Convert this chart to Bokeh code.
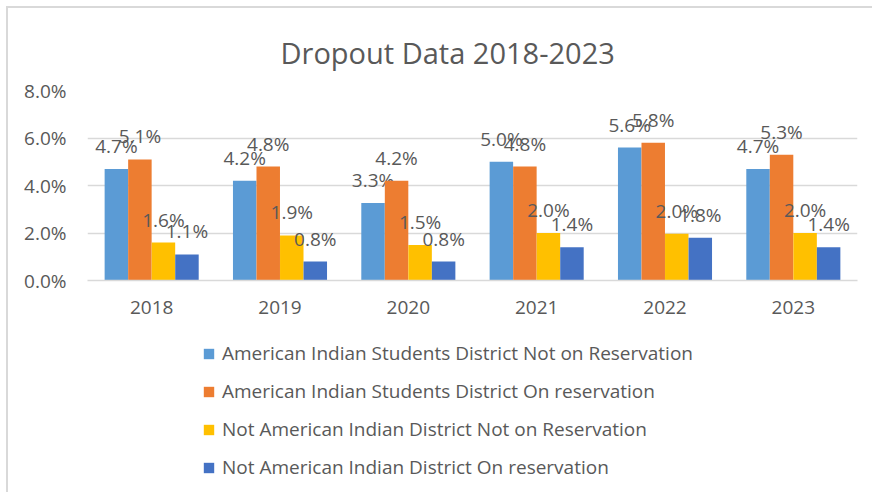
from bokeh.plotting import figure
from bokeh.layouts import column
from bokeh.models import (FactorRange, FixedTicker, PrintfTickFormatter, Legend, LegendItem)
from bokeh.transform import dodge
from bokeh.core.properties import value
from bokeh.embed import file_html
from bokeh.resources import INLINE

years = ["2018", "2019", "2020", "2021", "2022", "2023"]
series_names = [
    "American Indian Students District Not on Reservation",
    "American Indian Students District On reservation",
    "Not American Indian District Not on Reservation",
    "Not American Indian District On reservation",
]
ai_not_res = [4.7, 4.2, 3.26, 5.0, 5.6, 4.7]
ai_on_res = [5.1, 4.8, 4.2, 4.8, 5.8, 5.3]
nonai_not_res = [1.6, 1.9, 1.5, 2.0, 1.97, 2.0]
nonai_on_res = [1.1, 0.8, 0.8, 1.4, 1.8, 1.4]
y_ticks = [0, 2, 4, 6, 8]

colors = ["#5B9BD5", "#ED7D31", "#FFC000", "#4472C4"]
offsets = [-0.275, -0.0917, 0.0917, 0.275]
bar_w = 0.183
FONT = "Open Sans"
GRAY = "#595959"
all_vals = [ai_not_res, ai_on_res, nonai_not_res, nonai_on_res]

# main chart
p = figure(x_range=FactorRange(factors=years), y_range=(0, 8),
           width=864, height=320, output_backend="svg", toolbar_location=None,
           min_border_left=79, min_border_right=15, min_border_top=82, min_border_bottom=48)
p.outline_line_color = None

p.title.text = "Dropout Data 2018-2023"
p.title.align = "left"
p.title.offset = 193
p.title.text_font = FONT
p.title.text_font_size = "29px"
p.title.text_font_style = "normal"
p.title.text_color = GRAY
p.title.standoff = 38

for vals, col, off in zip(all_vals, colors, offsets):
    src = dict(year=years, val=vals, lab=["%.1f%%" % v for v in vals])
    p.vbar(x=dodge("year", off, range=p.x_range), top="val", width=bar_w,
           source=src, fill_color=col, line_color=None)
    p.text(x=dodge("year", off, range=p.x_range), y="val", text="lab", source=src,
           text_font=value(FONT), text_font_size="19px", text_color=GRAY,
           text_align="center", text_baseline="alphabetic", y_offset=-23)

p.yaxis.ticker = FixedTicker(ticks=y_ticks)
p.yaxis.formatter = PrintfTickFormatter(format="%.1f%%")
p.yaxis.axis_line_color = None
p.yaxis.major_tick_line_color = None
p.yaxis.minor_tick_line_color = None
p.yaxis.major_label_standoff = 15
p.xaxis.major_tick_line_color = None
p.xaxis.axis_line_color = "#d9d9d9"
p.xaxis.axis_line_width = 1.5
p.xaxis.major_label_standoff = 14
for ax in (p.xaxis, p.yaxis):
    ax.major_label_text_font = FONT
    ax.major_label_text_font_size = "19px"
    ax.major_label_text_color = GRAY
p.xgrid.grid_line_color = None
p.ygrid.grid_line_color = "#d9d9d9"
p.ygrid.grid_line_width = 1.5
p.ygrid.ticker = FixedTicker(ticks=y_ticks)

# legend area below the chart (series renderers kept out of view; only the legend shows)
pl = figure(width=864, height=164, output_backend="svg", toolbar_location=None,
            x_range=FactorRange(factors=years), y_range=(100, 101),
            min_border_left=79, min_border_top=0, min_border_right=15, min_border_bottom=0)
pl.axis.visible = False
pl.grid.visible = False
pl.outline_line_color = None
items = []
for name, vals, col, off in zip(series_names, all_vals, colors, offsets):
    r = pl.vbar(x=dodge("year", off, range=pl.x_range), top="val", width=bar_w,
                source=dict(year=years, val=vals), fill_color=col, line_color=None)
    items.append(LegendItem(label=name, renderers=[r]))
legend = Legend(items=items, location=(115, 12), orientation="vertical",
                label_text_font=FONT, label_text_font_size="19px", label_text_color=GRAY,
                glyph_width=13, glyph_height=13, label_standoff=7, spacing=12,
                padding=0, margin=0, border_line_color=None, background_fill_alpha=0)
pl.add_layout(legend, "center")

layout = column(p, pl, spacing=0,
                styles={"margin-left": "6px", "margin-top": "6px",
                        "border-left": "2px solid #d9d9d9", "border-top": "2px solid #d9d9d9"})

open("out.html", "w").write(file_html(layout, INLINE))
